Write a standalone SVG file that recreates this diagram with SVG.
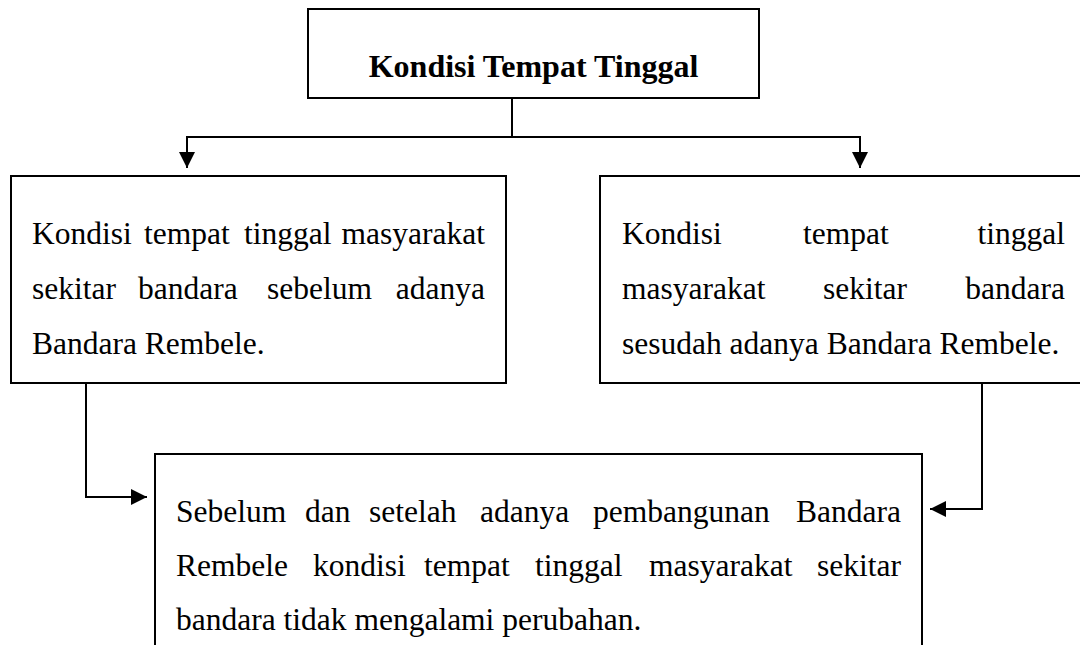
<svg xmlns="http://www.w3.org/2000/svg" width="1080" height="645" viewBox="0 0 1080 645">
<style>
.box{fill:#fff;stroke:#000;stroke-width:2}
.con{fill:none;stroke:#000;stroke-width:2}
text{font-family:"Liberation Serif","Times New Roman",serif;font-size:31.5px;fill:#000}
.title{font-weight:bold;font-size:32px}
.e{text-anchor:end}
</style>
<defs>
<marker id="ah" viewBox="0 0 16 16" markerWidth="16" markerHeight="16" refX="16" refY="8" orient="auto" markerUnits="userSpaceOnUse">
<path d="M0,0 L16,8 L0,16 Z" fill="#000"/>
</marker>
</defs>
<rect width="1080" height="645" fill="#fff"/>
<g id="connectors">
<path class="con" d="M512,98 V137"/>
<path class="con" d="M187,137 H860"/>
<path class="con" d="M187,136 V168" marker-end="url(#ah)"/>
<path class="con" d="M860,136 V168" marker-end="url(#ah)"/>
<path class="con" d="M86,383 V497 H147" marker-end="url(#ah)"/>
<path class="con" d="M982,383 V509 H930" marker-end="url(#ah)"/>
</g>
<g id="node-top">
<rect class="box" x="308" y="9" width="451" height="89"/>
<text class="title" x="533.5" y="77" text-anchor="middle">Kondisi Tempat Tinggal</text>
</g>
<g id="node-left">
<rect class="box" x="11" y="176" width="495" height="207"/>
<text x="32" y="244">Kondisi</text><text x="144" y="244">tempat</text><text x="244" y="244">tinggal</text><text class="e" x="485" y="244">masyarakat</text>
<text x="32" y="299">sekitar</text><text x="138" y="299">bandara</text><text x="267" y="299">sebelum</text><text class="e" x="485" y="299">adanya</text>
<text x="32" y="354">Bandara Rembele.</text>
</g>
<g id="node-right">
<rect class="box" x="600" y="176" width="484" height="207"/>
<text x="622" y="244">Kondisi</text><text x="803" y="244">tempat</text><text class="e" x="1065" y="244">tinggal</text>
<text x="622" y="299">masyarakat</text><text x="823" y="299">sekitar</text><text class="e" x="1065" y="299">bandara</text>
<text x="622" y="354">sesudah adanya Bandara Rembele.</text>
</g>
<g id="node-bottom">
<rect class="box" x="155" y="454" width="767" height="210"/>
<text x="176" y="522">Sebelum</text><text x="305" y="522">dan</text><text x="369" y="522">setelah</text><text x="480" y="522">adanya</text><text x="593" y="522">pembangunan</text><text class="e" x="901" y="522">Bandara</text>
<text x="176" y="576">Rembele</text><text x="313" y="576">kondisi</text><text x="424" y="576">tempat</text><text x="535" y="576">tinggal</text><text x="649" y="576">masyarakat</text><text class="e" x="901" y="576">sekitar</text>
<text x="176" y="630">bandara tidak mengalami perubahan.</text>
</g>
</svg>
